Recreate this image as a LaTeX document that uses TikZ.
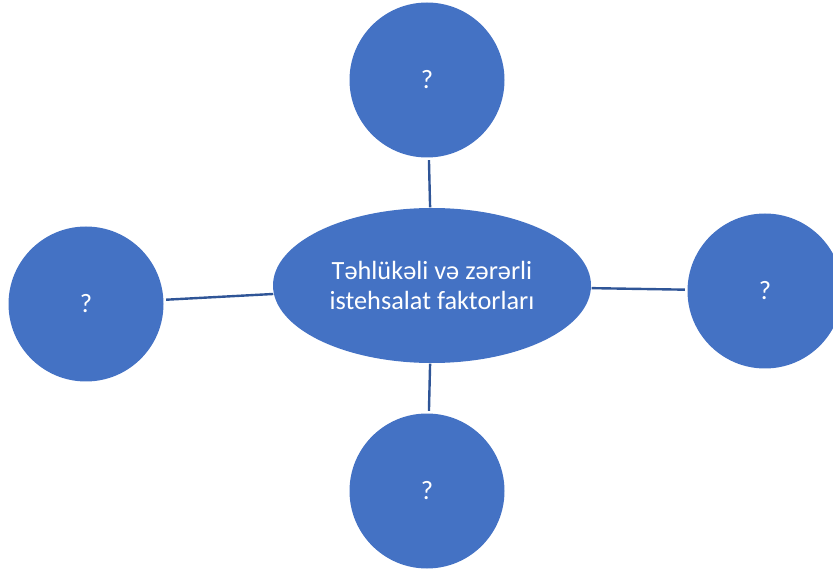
\documentclass[tikz,border=0pt]{standalone}
\usepackage{fontspec}
\setmainfont{Carlito}
\usetikzlibrary{shapes.geometric}
\definecolor{fillblue}{HTML}{4472C4}
\definecolor{lineblue}{HTML}{2F5597}
\tikzset{
  bubble/.style={circle, fill=fillblue, minimum size=155pt, inner sep=0pt, text=white, font=\fontsize{26.5}{31}\selectfont},
  hub/.style={ellipse, fill=fillblue, minimum width=318pt, minimum height=155pt, inner sep=0pt, text=white, align=center, font=\fontsize{26.3}{30.5}\selectfont},
  link/.style={draw=lineblue, line width=2.4pt, shorten <=0.5pt, shorten >=2.5pt}
}
\begin{document}
\begin{tikzpicture}[x=1pt,y=-1pt]
\useasboundingbox (0,0) rectangle (833,569);
\node[hub] (el) at (432,285.5) {Təhlükəli və zərərli\\istehsalat faktorları};
\node[bubble] (top) at (427,80) {?};
\node[bubble] (left) at (86,304) {?};
\node[bubble] (right) at (765,291) {?};
\node[bubble] (bottom) at (427,491) {?};
\draw[link] (el) -- (top);
\draw[link] (el) -- (left);
\draw[link] (el) -- (right);
\draw[link] (el) -- (bottom);
\end{tikzpicture}
\end{document}
